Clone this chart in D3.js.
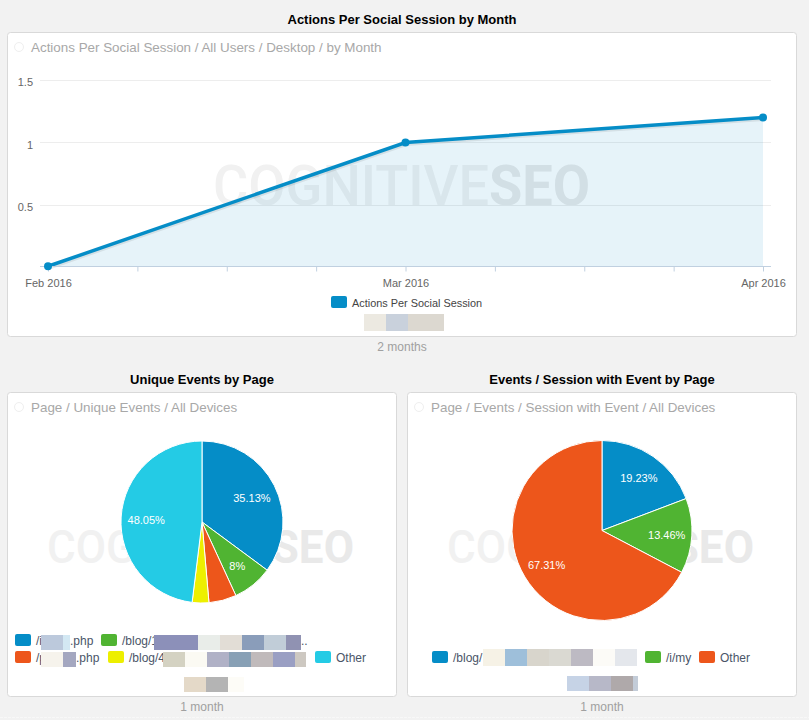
<!DOCTYPE html>
<html>
<head>
<meta charset="utf-8">
<script src="https://cdn.jsdelivr.net/npm/d3@7"></script>
<style>
  html, body { margin: 0; padding: 0; background: #f2f2f2; overflow: hidden; }
  svg { display: block; font-family: "Liberation Sans", Arial, sans-serif; }
  .axis path { display: none; }
</style>
</head>
<body>
<svg id="chart" width="809" height="720"></svg>
<script>
// line chart values
const months = ['Feb 2016', 'Mar 2016', 'Apr 2016'];
const actions = [0.01, 1.0, 1.2];
const yTicks = [0.5, 1, 1.5];
const xTicks = [0, 0.25, 0.5, 0.75, 1, 1.25, 1.5, 1.75, 2];

// pies
const uniqueLabels = ['/i.php', '/blog/1', '/p.php', '/blog/4', 'Other'];
const uniqueValues = [35.13, 8, 5.5, 3.32, 48.05];
const uniqueColors = ['#058dc7', '#50b432', '#ed561b', '#edef00', '#24cbe5'];
const eventLabels = ['/blog/', '/i/my', 'Other'];
const eventValues = [19.23, 13.46, 67.31];
const eventColors = ['#058dc7', '#50b432', '#ed561b'];

const svg = d3.select('#chart');

function panel(x, y, w, h, title, subtitle, footer) {
  svg.append('rect').attr('x', x + 0.5).attr('y', y + 0.5).attr('width', w).attr('height', h)
    .attr('rx', 3).attr('fill', '#fff').attr('stroke', '#d9d9d9');
  svg.append('text').attr('x', x + (w + 1) / 2).attr('y', y - 8).attr('text-anchor', 'middle')
    .attr('font-size', 13).attr('font-weight', 'bold').attr('fill', '#000').text(title);
  svg.append('circle').attr('cx', x + 12).attr('cy', y + 15).attr('r', 4.5)
    .attr('fill', '#fff').attr('stroke', '#efefef');
  svg.append('text').attr('x', x + 24).attr('y', y + 20)
    .attr('font-size', 13.4).attr('fill', '#a8a8a8').text(subtitle);
  svg.append('text').attr('x', x + (w + 1) / 2).attr('y', y + h + 15).attr('text-anchor', 'middle')
    .attr('font-size', 12).attr('fill', '#a0a0a0').text(footer);
}

function watermark(x, y, size, width) {
  const t = svg.append('text').attr('x', x).attr('y', y)
    .attr('font-family', 'Roboto, sans-serif').attr('font-size', size)
    .attr('textLength', width).attr('lengthAdjust', 'spacingAndGlyphs');
  t.append('tspan').attr('fill', '#f1f1f1').attr('font-weight', 500).text('COGNITIVE');
  t.append('tspan').attr('fill', '#e9e9e9').attr('font-weight', 'bold').text('SEO');
}

// colour blocks hiding parts of the legend labels
function blocks(x, y, h, colors, widths) {
  let cx = x;
  colors.forEach((c, i) => {
    svg.append('rect').attr('x', cx).attr('y', y).attr('width', widths[i]).attr('height', h).attr('fill', c);
    cx += widths[i];
  });
}

function swatch(x, y, color, label, size, textColor) {
  svg.append('rect').attr('x', x).attr('y', y).attr('width', 16).attr('height', 12)
    .attr('rx', 2).attr('fill', color);
  svg.append('text').attr('x', x + 21).attr('y', y + 11).attr('font-size', size || 12)
    .attr('fill', textColor || '#4a5568').text(label);
}

panel(7, 32, 789, 304, 'Actions Per Social Session by Month',
  'Actions Per Social Session / All Users / Desktop / by Month', '2 months');
panel(7, 392, 389, 304, 'Unique Events by Page', 'Page / Unique Events / All Devices', '1 month');
panel(407, 392, 389, 304, 'Events / Session with Event by Page',
  'Page / Events / Session with Event / All Devices', '1 month');

watermark(213, 205, 56, 377);
watermark(47, 563, 46, 307);
watermark(447, 563, 46, 307);

// line chart
const x = d3.scaleLinear().domain([0, 2]).range([48, 763]);
const y = d3.scaleLinear().domain([0, 1.5]).range([267.5, 80]);
const baseline = 266.5;

svg.append('g').selectAll('line').data(yTicks).join('line')
  .attr('x1', 40).attr('x2', 771)
  .attr('y1', d => Math.floor(y(d)) + 0.5).attr('y2', d => Math.floor(y(d)) + 0.5)
  .attr('stroke', '#ededed');

svg.append('g').selectAll('text').data(yTicks).join('text')
  .attr('x', 33).attr('y', d => y(d) + 6).attr('text-anchor', 'end')
  .attr('font-size', 11).attr('fill', '#666').text(d => d);

const points = actions.map((v, i) => [i, v]);

svg.append('path').datum(points)
  .attr('fill', '#058dc7').attr('fill-opacity', 0.1)
  .attr('d', d3.area().x(d => x(d[0])).y0(baseline).y1(d => y(d[1])));

// soft shadow under the line
svg.append('path').datum(points)
  .attr('fill', 'none').attr('stroke', '#000').attr('stroke-opacity', 0.08).attr('stroke-width', 4)
  .attr('transform', 'translate(0.5,1.5)')
  .attr('d', d3.line().x(d => x(d[0])).y(d => y(d[1])));

svg.append('path').datum(points)
  .attr('fill', 'none').attr('stroke', '#058dc7').attr('stroke-width', 3.5)
  .attr('d', d3.line().x(d => x(d[0])).y(d => y(d[1])));

const axis = svg.append('g').attr('class', 'axis')
  .attr('transform', `translate(0,${baseline})`)
  .call(d3.axisBottom(x).tickValues(xTicks).tickSize(5)
    .tickFormat(d => Number.isInteger(d) ? months[d] : ''));
axis.selectAll('line').attr('stroke', '#c0d0e0');
axis.selectAll('text').attr('font-size', 11).attr('font-family', '"Liberation Sans", Arial, sans-serif')
  .attr('fill', '#666').attr('dy', '1.15em');
svg.append('line').attr('x1', 40).attr('x2', 771).attr('y1', baseline).attr('y2', baseline).attr('stroke', '#c0d0e0');

svg.append('g').selectAll('circle').data(points).join('circle')
  .attr('cx', d => x(d[0])).attr('cy', d => y(d[1])).attr('r', 4).attr('fill', '#058dc7');

swatch(331, 296, '#058dc7', 'Actions Per Social Session', 10.9, '#444');
blocks(364, 314, 17, ['#ece9e1', '#c9d1dc', '#dcd8d0'], [22, 22, 36]);

// pies
function pie(cx, cy, r, values, colors, minLabel, labelAt) {
  const arcs = d3.pie().sort(null)(values);
  const arc = d3.arc().innerRadius(0).outerRadius(r);
  const labelArc = d3.arc().innerRadius(r * labelAt).outerRadius(r * labelAt);
  const g = svg.append('g').attr('transform', `translate(${cx},${cy})`);
  g.selectAll('path').data(arcs).join('path')
    .attr('d', arc).attr('fill', (d, i) => colors[i])
    .attr('stroke', '#fff').attr('stroke-width', 1);
  g.selectAll('text').data(arcs.filter(d => d.data >= minLabel)).join('text')
    .attr('transform', d => `translate(${labelArc.centroid(d)})`)
    .attr('text-anchor', 'middle').attr('dy', '0.45em')
    .attr('font-size', 11).attr('fill', '#fff').text(d => d.data + '%');
}

pie(202, 522, 81, uniqueValues, uniqueColors, 7, 0.69);
pie(602, 530.5, 90, eventValues, eventColors, 7, 0.72);

// left pie legend
swatch(15, 634, uniqueColors[0], '/i', 12);
blocks(41, 635, 15, ['#bcc9dc', '#d3e8f3'], [22, 7]);
svg.append('text').attr('x', 70).attr('y', 645).attr('font-size', 12).attr('fill', '#4a5568').text('.php');
swatch(101, 634, uniqueColors[1], uniqueLabels[1], 12);
blocks(154, 635, 15, ['#8c90b9', '#e9ede9', '#e2ddd6', '#8a9dba', '#c1cdd8', '#9092b2'], [44, 22, 22, 22, 22, 15]);
svg.append('text').attr('x', 301).attr('y', 645).attr('font-size', 12).attr('fill', '#4a5568').text('..');
swatch(15, 651, uniqueColors[2], '/p', 12);
blocks(41, 652, 15, ['#f6f3ec', '#a4a7c0'], [22, 13]);
svg.append('text').attr('x', 76).attr('y', 662).attr('font-size', 12).attr('fill', '#4a5568').text('.php');
swatch(108, 651, uniqueColors[3], uniqueLabels[3], 12);
blocks(163, 652, 15, ['#d4d2c2', '#fbfaf3', '#b0b1c6', '#88a0b5', '#c0babb', '#9a9fc3', '#cdc8c1'], [22, 22, 22, 22, 22, 22, 11]);
swatch(315, 651, uniqueColors[4], uniqueLabels[4], 12);
blocks(184, 677, 15, ['#e4d9c8', '#b4b4b4', '#fdfcf7'], [22, 22, 16]);

// right pie legend
swatch(432, 651, eventColors[0], eventLabels[0], 12);
blocks(483, 649, 17, ['#f6f2e6', '#9ebfda', '#d8d5cc', '#dad9d2', '#bdbac3', '#fcfbf7', '#e4e7ec'], [22, 22, 22, 22, 22, 22, 22]);
swatch(645, 651, eventColors[1], eventLabels[1], 12);
swatch(699, 651, eventColors[2], eventLabels[2], 12);
blocks(567, 676, 15, ['#c6d3e6', '#b7b8c8', '#afa9aa', '#c3ccd8'], [22, 22, 22, 5]);

// faint cut-off row along the bottom edge
svg.append('line').attr('x1', 0).attr('x2', 809).attr('y1', 717.5).attr('y2', 717.5)
  .attr('stroke', '#f8f8f8').attr('stroke-dasharray', '3 1');
</script>
</body>
</html>
